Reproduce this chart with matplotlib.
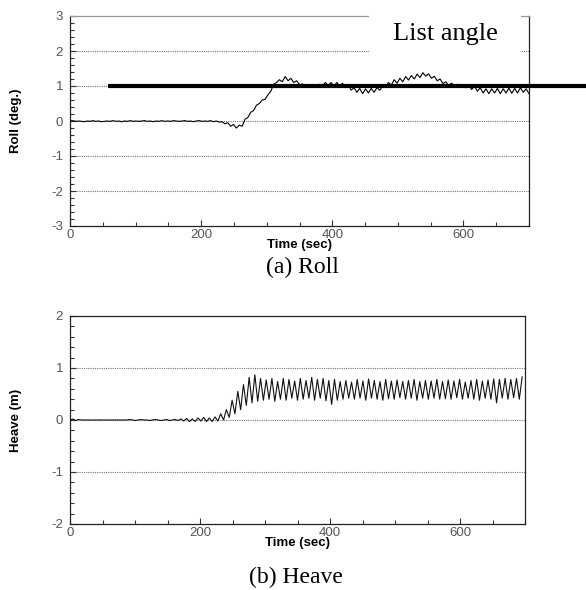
"""
Roll and heave time histories (two stacked panels with captions).
"""
import numpy as np
import matplotlib
matplotlib.use("Agg")
import matplotlib.pyplot as plt
from matplotlib.patches import Rectangle
from matplotlib.ticker import MultipleLocator

plt.rcParams['axes.unicode_minus'] = False

# sample interval of the recorded series (sec)
DT = 4.375

# roll (deg.), one value per sample from t = 0
roll = [
    0.00, 0.01, -0.01, 0.00, -0.01, -0.02, 0.00, -0.01, 0.01, -0.01,
    0.00, -0.02, -0.01, 0.00, -0.01, 0.01, -0.01, 0.00, -0.02, 0.00,
    -0.01, 0.01, -0.01, 0.00, -0.01, 0.00, 0.01, -0.01, 0.00, -0.02,
    0.00, -0.01, 0.01, -0.01, 0.00, -0.01, 0.01, 0.00, -0.01, 0.00,
    0.01, -0.01, 0.00, -0.02, 0.00, 0.01, -0.01, 0.00, -0.01, 0.01,
    -0.02, 0.00, -0.03,
    -0.02, -0.08, -0.05, -0.15, -0.10, -0.20, -0.12, -0.15, 0.05, 0.10,
    0.25, 0.30, 0.45, 0.50, 0.60, 0.62, 0.75, 0.85, 1.05, 1.10,
    1.18, 1.12, 1.27, 1.15, 1.22, 1.10, 1.15, 1.04, 1.06, 0.98,
    1.03, 0.98, 1.02, 0.98, 1.05, 1.00, 1.10, 1.02, 1.10, 1.00,
    1.10, 1.00, 1.08, 0.95, 1.05, 0.88, 0.95, 0.82, 0.93, 0.78,
    0.92, 0.80, 0.93, 0.82, 0.95, 0.88, 1.00, 0.98, 1.10, 1.02,
    1.18, 1.08, 1.22, 1.12, 1.27, 1.17, 1.30, 1.20, 1.34, 1.24,
    1.38, 1.28, 1.35, 1.22, 1.28, 1.15, 1.20, 1.07, 1.12, 1.02,
    1.08, 1.00, 1.05, 0.98, 1.03, 0.95, 1.02, 0.90, 1.00, 0.85,
    0.95, 0.80, 0.92, 0.78, 0.92, 0.80, 0.93, 0.78, 0.92, 0.80,
    0.94, 0.79, 0.93, 0.80, 0.95, 0.82, 0.92, 0.78,
]

# heave (m), one value per sample from t = 0
heave = [
    0.00, 0.02, -0.01, 0.01, 0.00, 0.00, 0.00, 0.00, 0.00, 0.00,
    0.00, 0.00, 0.00, 0.00, 0.00, 0.00, 0.00, 0.00, 0.00, 0.00,
    0.00, 0.01, 0.00, -0.01, 0.00, 0.01, 0.00, 0.00, -0.01, 0.00,
    0.01, 0.00, -0.01, 0.00, 0.01, -0.01, 0.00, 0.01, -0.01,
    0.02, -0.02, 0.03, -0.03, 0.02, -0.03, 0.04, -0.02, 0.05, -0.03,
    0.04, -0.03, 0.06, -0.02, 0.12, 0.00, 0.20, 0.05, 0.38, 0.12,
    0.55, 0.20, 0.68, 0.28, 0.82, 0.33, 0.87, 0.36, 0.80, 0.38,
    0.77, 0.40, 0.80, 0.36, 0.74, 0.40, 0.80, 0.38, 0.78, 0.42,
    0.75, 0.38, 0.80, 0.40, 0.76, 0.42, 0.82, 0.38, 0.78, 0.42,
    0.80, 0.37, 0.76, 0.30, 0.78, 0.38, 0.74, 0.40, 0.76, 0.42,
    0.73, 0.40, 0.78, 0.42, 0.75, 0.38, 0.79, 0.42, 0.76, 0.40,
    0.74, 0.38, 0.78, 0.41, 0.75, 0.40, 0.77, 0.43, 0.74, 0.40,
    0.76, 0.42, 0.78, 0.38, 0.74, 0.42, 0.76, 0.40, 0.75, 0.42,
    0.78, 0.40, 0.74, 0.41, 0.77, 0.40, 0.75, 0.43, 0.78, 0.40,
    0.73, 0.42, 0.76, 0.40, 0.78, 0.38, 0.75, 0.42, 0.77, 0.40,
    0.79, 0.33, 0.78, 0.42, 0.80, 0.40, 0.78, 0.43, 0.80, 0.40,
    0.83,
]

# reference list angle line
LIST_ANGLE = 1.0
LIST_START = 58
LIST_END = 790

t_roll = np.arange(len(roll)) * DT
t_heave = np.arange(len(heave)) * DT

TICK_FONT = 'Liberation Sans'
SERIF = 'Liberation Serif'
TICK_COLOR = '#555555'

fig = plt.figure(figsize=(5.86, 5.90), dpi=100)
ax1 = fig.add_axes([70 / 586, 1 - 226 / 590, 459 / 586, 210 / 590])
ax2 = fig.add_axes([70 / 586, 1 - 524 / 590, 455 / 586, 208 / 590])


def style_axes(ax, ylim, ymajor, yminor, ylabel, width_px):
    ax.set_xlim(0, 700)
    ax.set_ylim(*ylim)
    ax.xaxis.set_major_locator(MultipleLocator(200))
    ax.xaxis.set_minor_locator(MultipleLocator(50))
    ax.yaxis.set_major_locator(MultipleLocator(ymajor))
    ax.yaxis.set_minor_locator(MultipleLocator(yminor))
    ax.tick_params(which='both', direction='in', colors='#333333',
                   labelcolor=TICK_COLOR, labelsize=9.5)
    ax.tick_params(axis='x', pad=2)
    ax.tick_params(axis='y', pad=5)
    ax.tick_params(which='major', length=4, width=0.8)
    ax.tick_params(which='minor', length=3, width=0.8)
    for lab in ax.get_xticklabels() + ax.get_yticklabels():
        lab.set_fontfamily(TICK_FONT)
    # dotted grid at inner major ticks only
    for yv in np.arange(ylim[0] + ymajor, ylim[1], ymajor):
        ax.axhline(yv, color='#777777', lw=0.8, ls=(0, (1, 1)), zorder=1)
    ax.set_xlabel('Time (sec)', fontfamily=TICK_FONT, fontweight='bold',
                  fontsize=9.5, labelpad=-1)
    ax.set_ylabel(ylabel, fontfamily=TICK_FONT, fontweight='bold',
                  fontsize=9.5)
    ax.yaxis.set_label_coords(-48 / width_px, 0.5)
    for sp in ax.spines.values():
        sp.set_linewidth(0.9)
        sp.set_color('#222222')


# (a) Roll
style_axes(ax1, (-3, 3), 1, 0.2, 'Roll (deg.)', 459)
ax1.spines['top'].set_color('#999999')
ax1.plot(t_roll, roll, color='black', lw=0.8, zorder=3)
ax1.plot([LIST_START, LIST_END], [LIST_ANGLE, LIST_ANGLE], color='black',
         lw=3.0, solid_capstyle='butt', clip_on=False, zorder=4)
ax1.add_patch(Rectangle((0.651, 0.80), 0.332, 0.30, transform=ax1.transAxes,
                        facecolor='white', edgecolor='none', clip_on=False,
                        zorder=5))
ax1.text(0.817, 0.915, 'List angle', transform=ax1.transAxes, ha='center',
         va='center', fontsize=19, fontfamily=SERIF, zorder=6)

# (b) Heave
style_axes(ax2, (-2, 2), 1, 0.2, 'Heave (m)', 455)
ax2.plot(t_heave, heave, color='#111111', lw=0.8, zorder=3)

fig.text(302 / 586, 1 - 267 / 590, '(a) Roll', ha='center', va='center',
         fontsize=17, fontfamily=SERIF)
fig.text(296 / 586, 1 - 577 / 590, '(b) Heave', ha='center', va='center',
         fontsize=17, fontfamily=SERIF)

plt.savefig('out.png', dpi=100)
plt.close()
